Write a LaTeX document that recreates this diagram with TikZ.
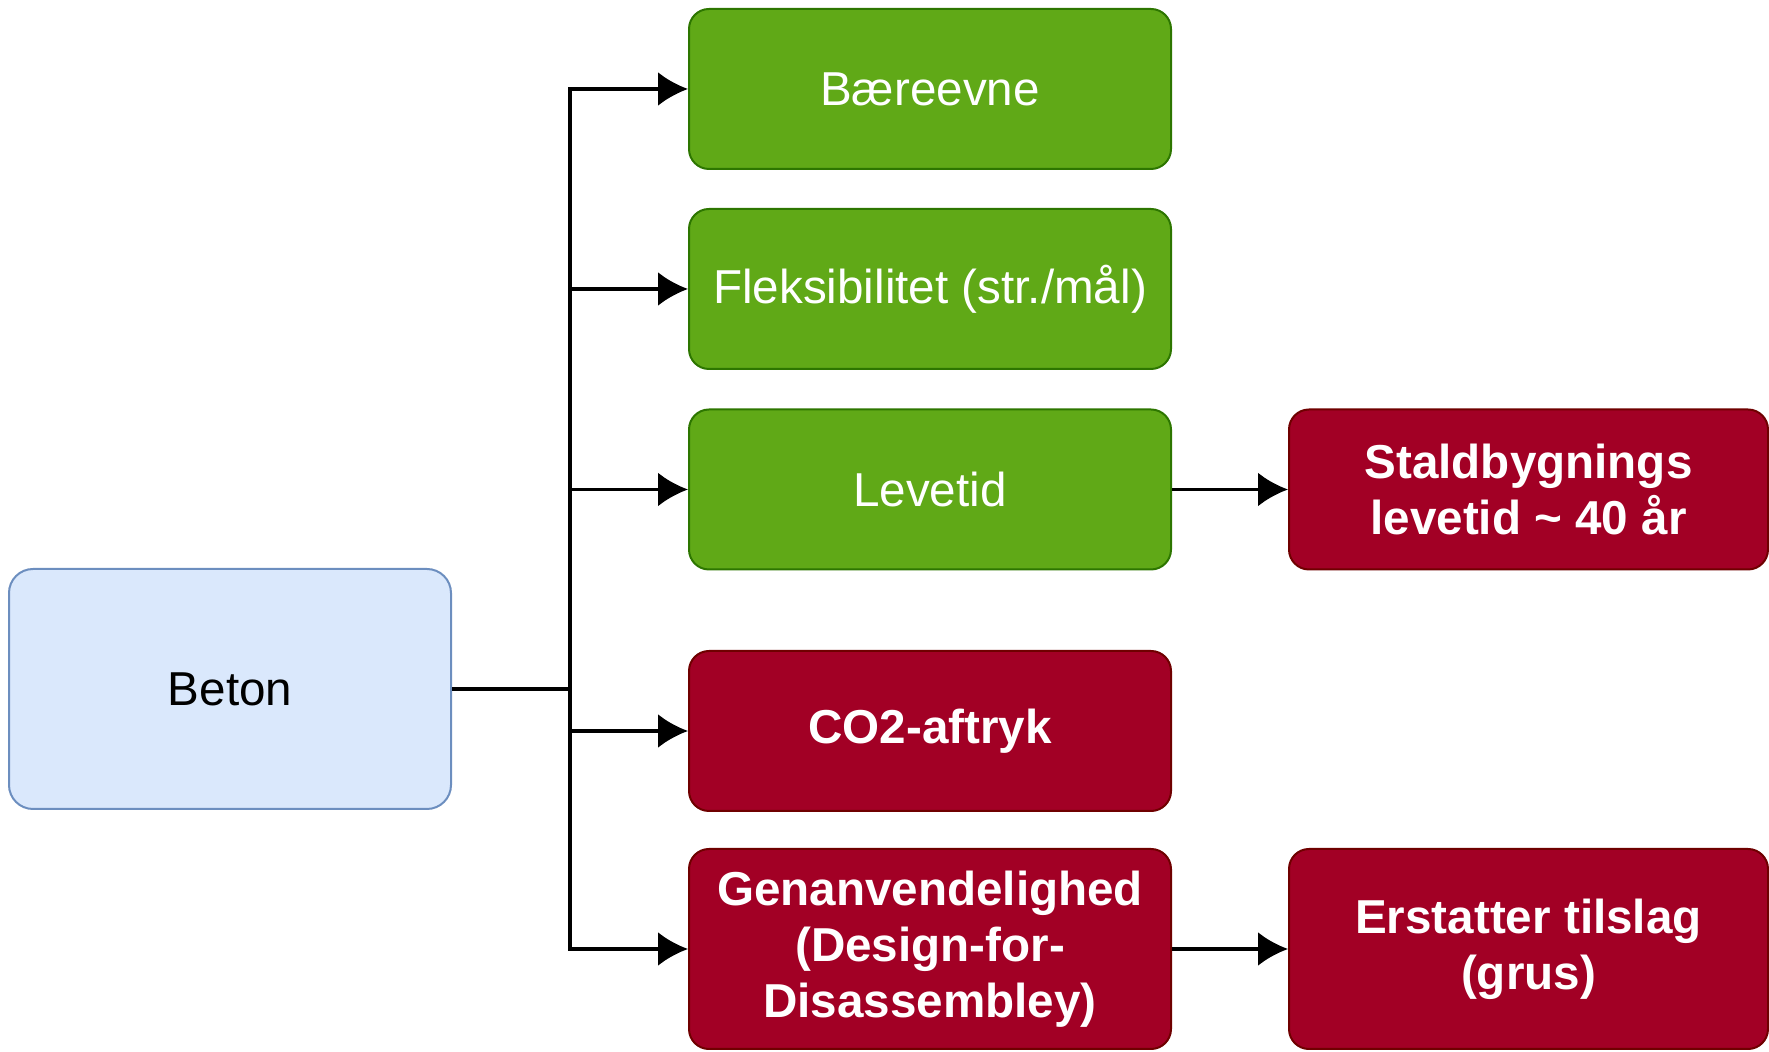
\documentclass[tikz,border=0pt]{standalone}
\usepackage{fontspec}
\setmainfont{Liberation Sans}
\usepackage{xcolor}
\usetikzlibrary{arrows.meta}

\definecolor{boxgreen}{HTML}{60A917}
\definecolor{boxgreenline}{HTML}{2D7600}
\definecolor{boxred}{HTML}{A20025}
\definecolor{boxredline}{HTML}{6F0000}
\definecolor{boxblue}{HTML}{DAE8FC}
\definecolor{boxblueline}{HTML}{6C8EBF}

\tikzset{
  box/.style={rectangle, rounded corners=10pt, line width=1pt, align=center,
    inner sep=0pt, font=\fontsize{23.8}{28}\selectfont},
  greenbox/.style={box, fill=boxgreen, draw=boxgreenline, text=white,
    minimum width=241pt, minimum height=80pt},
  redbox/.style={box, fill=boxred, draw=boxredline, text=white,
    font=\fontsize{23.8}{28}\selectfont\bfseries, minimum width=241pt, minimum height=80pt},
  bluebox/.style={box, rounded corners=12pt, fill=boxblue, draw=boxblueline, text=black,
    minimum width=221pt, minimum height=120pt},
  arr/.style={line width=1.8pt, -{Latex[length=15pt, width=17pt]}},
  plain/.style={line width=1.8pt}
}

\begin{document}
\begin{tikzpicture}[x=0.5pt, y=0.5pt]
\useasboundingbox (0,0) rectangle (1769,-1052);

\node[bluebox] (beton) at (230, -689) {Beton};

\node[greenbox] (baere) at (930, -89) {Bæreevne};
\node[greenbox] (flex) at (930, -289) {Fleksibilitet (str./mål)};
\node[greenbox] (leve) at (930, -489.5) {Levetid};
\node[redbox] (co2) at (930, -731) {CO2-aftryk};
\node[redbox, minimum height=100pt] (genan) at (930, -949) {Genanvendelighed\\(Design-for-\\Disassembley)};

\node[redbox, minimum width=239.5pt] (stald) at (1528.5, -489.5) {Staldbygnings\\levetid \textasciitilde{} 40 år};
\node[redbox, minimum width=239.5pt, minimum height=100pt] (erstat) at (1528.5, -949) {Erstatter tilslag\\(grus)};

\coordinate (split) at (570, -689);
\draw[plain] (beton.east) -- (split);
\draw[arr] (split) |- (baere.west);
\draw[arr] (split) |- (flex.west);
\draw[arr] (split) |- (leve.west);
\draw[arr] (split) |- (co2.west);
\draw[arr] (split) |- (genan.west);

\draw[arr] (leve.east) -- (stald.west);
\draw[arr] (genan.east) -- (erstat.west);
\end{tikzpicture}
\end{document}
